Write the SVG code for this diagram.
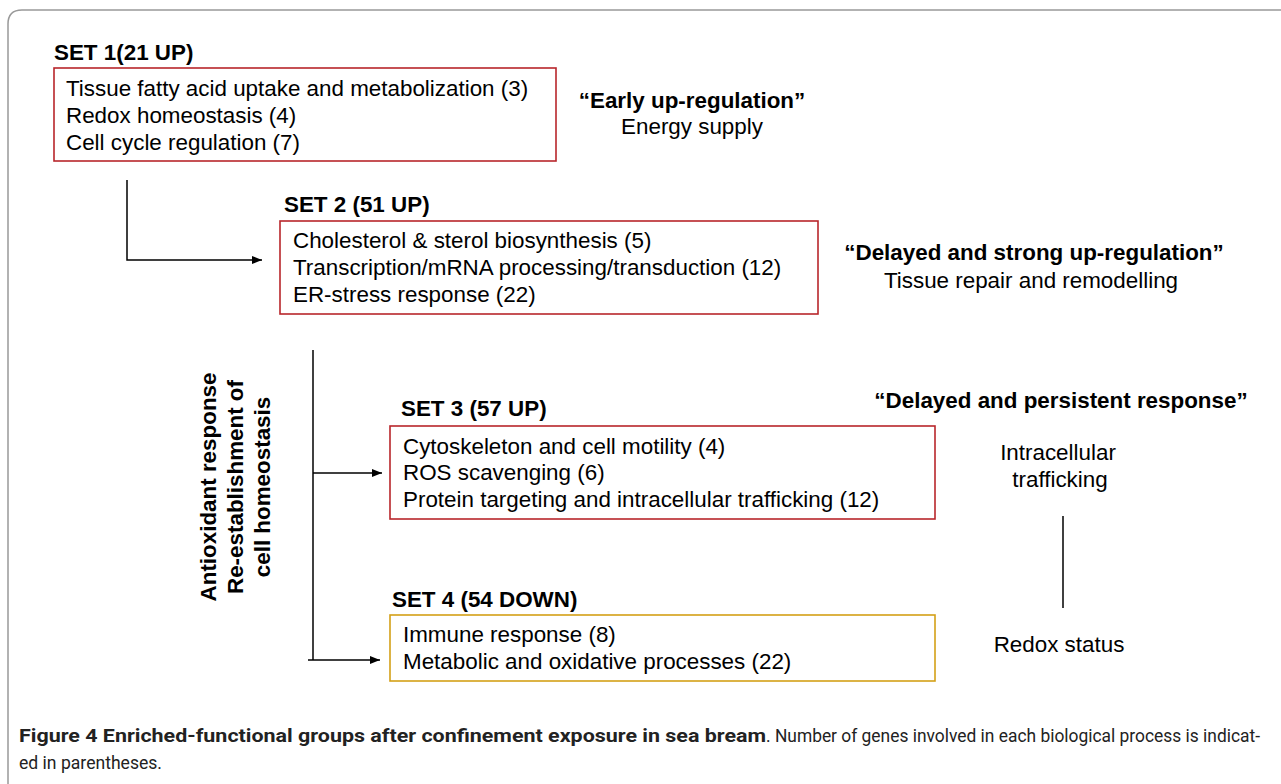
<svg xmlns="http://www.w3.org/2000/svg" width="1281" height="784" viewBox="0 0 1281 784">
<defs>
<style>
.t{font-family:"Liberation Sans",Arial,sans-serif;font-size:22.4px;fill:#000}
.b{font-weight:bold}
.m{text-anchor:middle}
.box{fill:none;stroke-width:1.6}
.red{stroke:#b8262b}
.gold{stroke:#d4a017}
.ln{fill:none;stroke:#000;stroke-width:1.5}
.cap{font-family:Roboto,"Open Sans",sans-serif;font-size:16px;fill:#222}
.capb{font-family:Roboto,"Open Sans",sans-serif;font-size:17.2px;font-weight:bold;fill:#222}
</style>
<marker id="ah" viewBox="0 0 10 10" refX="10" refY="5" markerWidth="10" markerHeight="10" markerUnits="userSpaceOnUse" orient="auto">
<path d="M0,1 L10,5 L0,9 Z" fill="#000"/>
</marker>
</defs>
<rect width="1281" height="784" fill="#fff"/>
<path d="M8,784 L8,24 Q8,10 22,10 L1281,10" fill="none" stroke="#999" stroke-width="1.5"/>

<g id="set1">
<text class="t b" x="54" y="60">SET 1(21 UP)</text>
<rect class="box red" x="54" y="68" width="502" height="93"/>
<text class="t" x="66" y="96">Tissue fatty acid uptake and metabolization (3)</text>
<text class="t" x="66" y="123">Redox homeostasis (4)</text>
<text class="t" x="66" y="150">Cell cycle regulation (7)</text>
</g>
<g id="label1">
<text class="t b m" x="692" y="108">“Early up-regulation”</text>
<text class="t m" x="692" y="134">Energy supply</text>
</g>

<g id="set2">
<text class="t b" x="284" y="212">SET 2 (51 UP)</text>
<rect class="box red" x="280" y="221" width="538" height="93"/>
<text class="t" x="293" y="248">Cholesterol &amp; sterol biosynthesis (5)</text>
<text class="t" x="293" y="275">Transcription/mRNA processing/transduction (12)</text>
<text class="t" x="293" y="302">ER-stress response (22)</text>
</g>
<g id="label2">
<text class="t b m" x="1034" y="260">“Delayed and strong up-regulation”</text>
<text class="t m" x="1031" y="288">Tissue repair and remodelling</text>
</g>

<g id="side">
<text class="t b m" transform="translate(216,487) rotate(-90)">Antioxidant response</text>
<text class="t b m" transform="translate(243,487) rotate(-90)">Re-establishment of</text>
<text class="t b m" transform="translate(270,487) rotate(-90)">cell homeostasis</text>
</g>

<g id="set3">
<text class="t b" x="401" y="416">SET 3 (57 UP)</text>
<rect class="box red" x="390" y="426" width="545" height="93"/>
<text class="t" x="403" y="454">Cytoskeleton and cell motility (4)</text>
<text class="t" x="403" y="480">ROS scavenging (6)</text>
<text class="t" x="403" y="507">Protein targeting and intracellular trafficking (12)</text>
</g>
<g id="label3">
<text class="t b m" x="1061" y="408">“Delayed and persistent response”</text>
<text class="t m" x="1058" y="460">Intracellular</text>
<text class="t m" x="1060" y="487">trafficking</text>
<text class="t m" x="1059" y="652">Redox status</text>
</g>

<g id="set4">
<text class="t b" x="392" y="607">SET 4 (54 DOWN)</text>
<rect class="box gold" x="390" y="615" width="545" height="66"/>
<text class="t" x="403" y="642">Immune response (8)</text>
<text class="t" x="403" y="669">Metabolic and oxidative processes (22)</text>
</g>

<g id="connectors">
<path class="ln" d="M127,180 L127,260 L262,260" marker-end="url(#ah)"/>
<path class="ln" d="M313,350 L313,660"/>
<path class="ln" d="M313,473 L382,473" marker-end="url(#ah)"/>
<path class="ln" d="M308,660 L380,660" marker-end="url(#ah)"/>
<path class="ln" d="M1063,516 L1063,608"/>
</g>

<g id="caption">
<text class="capb" transform="translate(19,742) scale(1,1.12)" textLength="747" lengthAdjust="spacingAndGlyphs">Figure 4 Enriched-functional groups after confinement exposure in sea bream</text>
<text class="cap" transform="translate(766,742) scale(1,1.2)" textLength="494" lengthAdjust="spacingAndGlyphs">. Number of genes involved in each biological process is indicat-</text>
<text class="cap" transform="translate(19,769) scale(1,1.2)" textLength="143" lengthAdjust="spacingAndGlyphs">ed in parentheses.</text>
</g>
</svg>
